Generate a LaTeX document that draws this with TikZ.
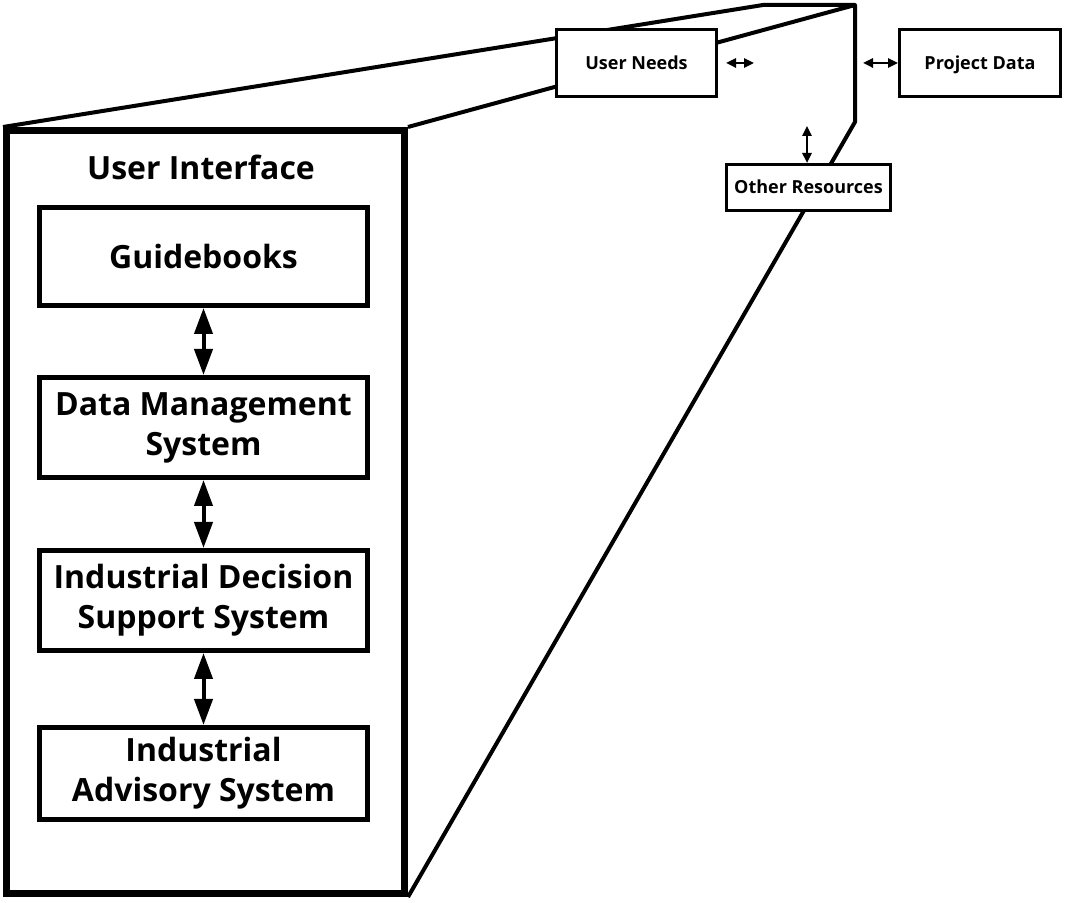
\documentclass[tikz,border=0pt]{standalone}
\usepackage{fontspec}
\setmainfont{Open Sans}
\usepackage{tikz}
\usetikzlibrary{shapes, positioning, arrows.meta}

\begin{document}
\begin{tikzpicture}[x=0.5pt, y=-0.5pt,
        block/.style={draw, line width=2.5pt, fill=white, minimum width=164pt, align=center, inner sep=0pt, font=\fontsize{16}{20}\selectfont\bfseries},
        smallbox/.style={draw, line width=1.5pt, fill=white, minimum height=33.5pt, inner sep=0pt, text height=1.5ex, text depth=0.3ex, font=\fontsize{9}{11}\selectfont\bfseries},
        bigarrow/.style={{Triangle[length=13pt, width=9pt]}-{Triangle[length=13pt, width=9pt]}, line width=2pt},
        smallarrow/.style={{Triangle[length=5pt, width=4.5pt]}-{Triangle[length=5pt, width=4.5pt]}, line width=1.2pt},
        frameline/.style={line width=2pt, line join=round}]
        \useasboundingbox (0, 0) rectangle (1089, 903);

        \node[draw, line width=3.5pt, minimum width=199pt, minimum height=381.5pt, inner sep=0pt] (ui) at (205.5, 512) {};
        \node[font=\fontsize{16}{20}\selectfont\bfseries] (uititle) at (201, 167) {User Interface};

        \node[block, minimum height=49pt] (gb) at (203.5, 256.5) {Guidebooks};
        \node[block, minimum height=50pt] (dms) at (203.5, 427.5) {Data Management\\System};
        \node[block, minimum height=50pt] (idss) at (203.5, 600.5) {Industrial Decision\\Support System};
        \node[block, minimum height=46pt] (ias) at (203.5, 773.5) {Industrial\\Advisory System};

        \draw[bigarrow] (gb) -- (dms);
        \draw[bigarrow] (dms) -- (idss);
        \draw[bigarrow] (idss) -- (ias);

        % back face of the box
        \coordinate (btl) at (763, 5);
        \coordinate (btr) at (855, 5);
        \coordinate (bbr) at (855, 122);
        \draw[frameline] (ui.north west) -- (btl) -- (btr) -- (bbr) -- (ui.south east);
        \draw[frameline] (ui.north east) -- (btr);

        \node[smallbox, minimum width=80pt] (un) at (636.5, 63) {User Needs};
        \node[smallbox, minimum width=80.5pt] (pd) at (980, 63) {Project Data};
        \node[smallbox, minimum width=82pt, minimum height=23pt] (or) at (808.5, 187.5) {Other Resources};

        \coordinate (unend) at (754, 63);
        \coordinate (pdend) at (863, 63);
        \coordinate (orend) at (807, 126);
        \draw[smallarrow, shorten <=4pt] (un) -- (unend);
        \draw[smallarrow] (pdend) -- (pd);
        \draw[smallarrow] (orend) -- (orend |- or.north);
    \end{tikzpicture}
\end{document}
